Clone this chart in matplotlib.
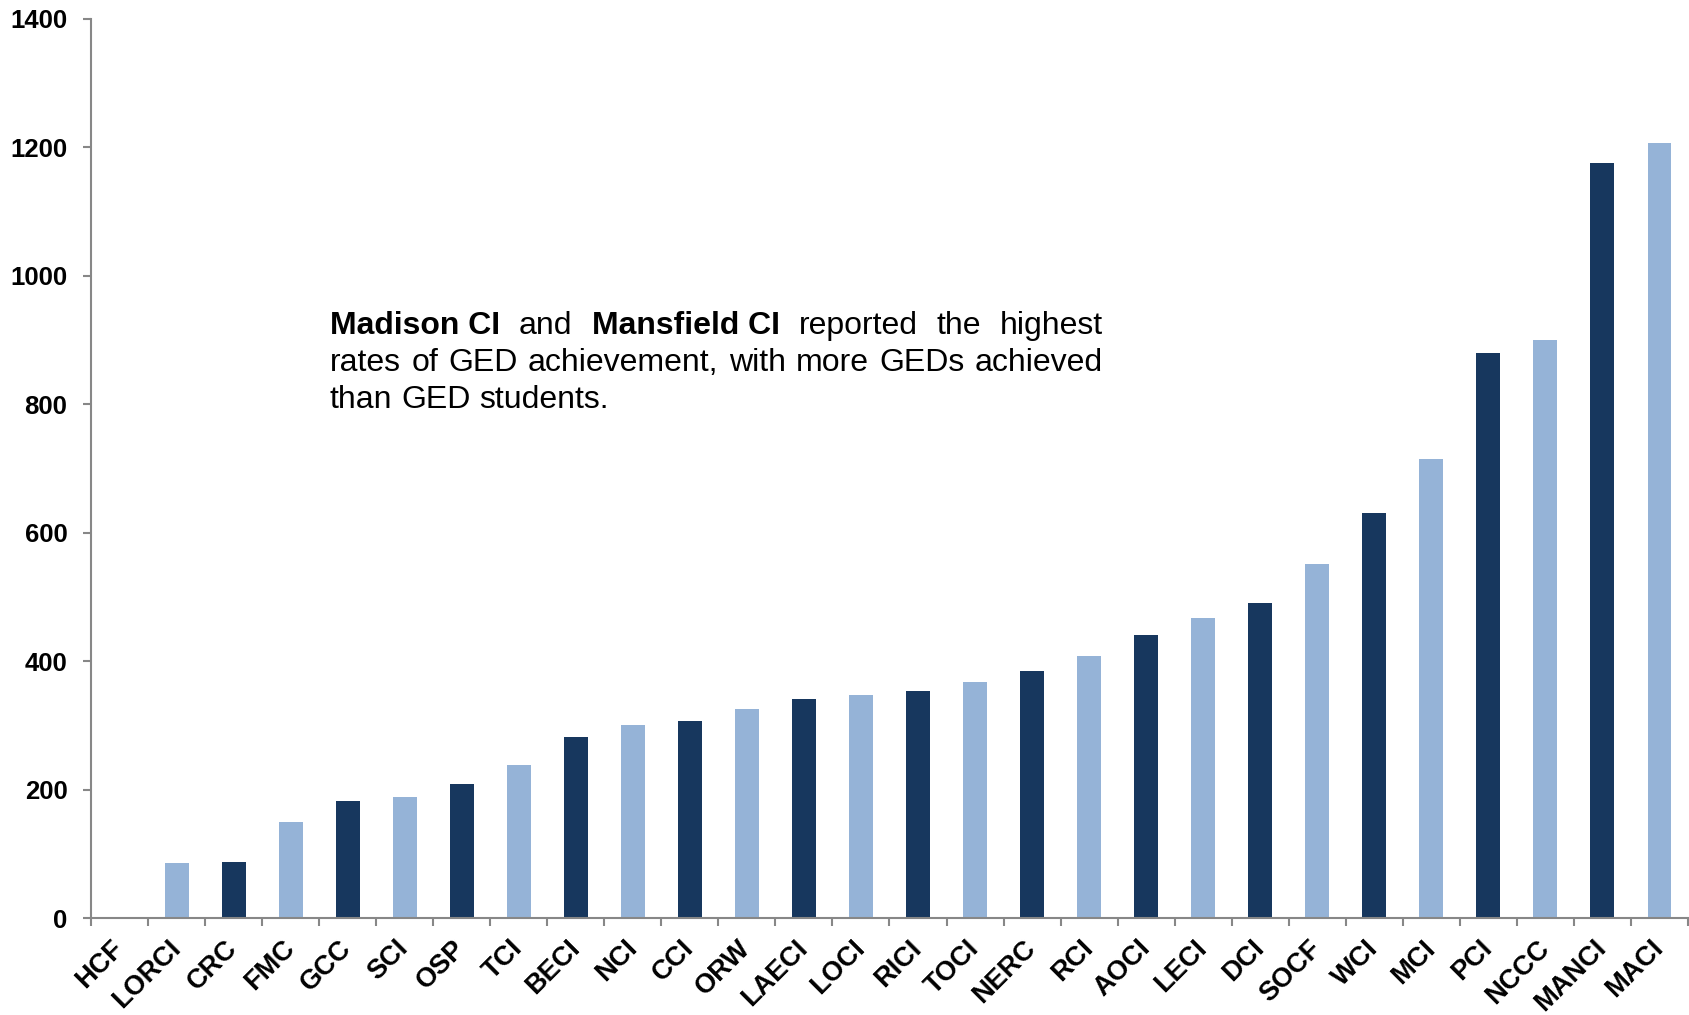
import matplotlib
matplotlib.use("Agg")
import matplotlib.pyplot as plt
from matplotlib import font_manager as fm
from matplotlib.font_manager import FontProperties

categories = ["HCF", "LORCI", "CRC", "FMC", "GCC", "SCI", "OSP", "TCI", "BECI", "NCI",
              "CCI", "ORW", "LAECI", "LOCI", "RICI", "TOCI", "NERC", "RCI", "AOCI", "LECI",
              "DCI", "SOCF", "WCI", "MCI", "PCI", "NCCC", "MANCI", "MACI"]
values = [0, 86, 87, 150, 182, 189, 208, 239, 282, 301,
          307, 326, 341, 348, 353, 367, 384, 408, 440, 467,
          490, 551, 630, 715, 880, 900, 1175, 1207]
yticks = [0, 200, 400, 600, 800, 1000, 1200, 1400]

note_lines = [
    [("Madison CI", True), ("and", False), ("Mansfield CI", True), ("reported", False),
     ("the", False), ("highest", False)],
    [("rates", False), ("of", False), ("GED", False), ("achievement,", False), ("with", False),
     ("more", False), ("GEDs", False), ("achieved", False)],
    [("than", False), ("GED", False), ("students.", False)],
]

DARK = "#17375E"
LIGHT = "#95B3D7"
AXIS = "#878787"


def find_file(basename):
    for f in fm.fontManager.ttflist:
        if f.fname.split("/")[-1].lower() == basename.lower():
            return f.fname
    return None


def fprop(basename, size, fallback_weight="normal"):
    p = find_file(basename)
    if p:
        return FontProperties(fname=p, size=size)
    return FontProperties(family="DejaVu Sans", weight=fallback_weight, size=size)


ytick_prop = fprop("LiberationSans-Bold.ttf", 18.5, "bold")
xtick_prop = fprop("LiberationSans-Bold.ttf", 19.5, "bold")

W, H = 1690, 1015
fig = plt.figure(figsize=(W / 100, H / 100), dpi=100)
ax = fig.add_axes([91 / W, 1 - 918 / H, (1688 - 91) / W, (918 - 19) / H])

x = list(range(len(categories)))
colors = [DARK if i % 2 == 0 else LIGHT for i in x]
ax.bar(x, values, width=0.42, color=colors, zorder=2)

ax.set_xlim(-0.5, len(categories) - 0.5)
ax.set_ylim(0, 1400)
ax.set_yticks(yticks)
ax.set_yticklabels([str(v) for v in yticks], fontproperties=ytick_prop)
ax.set_xticks(x)
ax.set_xticklabels(categories, rotation=45, ha="right", va="center",
                   rotation_mode="anchor", fontproperties=xtick_prop)
ax.set_xticks([i - 0.5 for i in range(len(categories) + 1)], minor=True)
ax.tick_params(axis="x", which="major", length=0, pad=19)
ax.tick_params(axis="x", which="minor", length=6, width=1.5, color=AXIS, direction="out")
ax.tick_params(axis="y", length=6, width=1.5, color=AXIS, pad=11)

for s in ["top", "right"]:
    ax.spines[s].set_visible(False)
for s in ["left", "bottom"]:
    ax.spines[s].set_color(AXIS)
    ax.spines[s].set_linewidth(1.5)
ax.spines["bottom"].set_zorder(3)

# Justified annotation text
NOTE_FS = 23
reg_file = find_file("LiberationSansNarrow-Regular.ttf") or find_file("LiberationSans-Regular.ttf")
bold_file = find_file("LiberationSansNarrow-Bold.ttf") or find_file("LiberationSans-Bold.ttf")
reg_prop = FontProperties(fname=reg_file, size=NOTE_FS) if reg_file else FontProperties(size=NOTE_FS)
bold_prop = FontProperties(fname=bold_file, size=NOTE_FS) if bold_file else FontProperties(size=NOTE_FS, weight="bold")

fig.canvas.draw()
renderer = fig.canvas.get_renderer()
left_px, right_px = 330, 1103
line_y = [326, 363, 400]
for li, line in enumerate(note_lines):
    texts = []
    widths = []
    for word, bold in line:
        t = fig.text(0, 0, word, fontproperties=bold_prop if bold else reg_prop,
                     va="center", ha="left")
        bb = t.get_window_extent(renderer)
        texts.append(t)
        widths.append(bb.width)
    sp_t = fig.text(0, 0, "a b", fontproperties=reg_prop)
    sp_ab = fig.text(0, 0, "ab", fontproperties=reg_prop)
    space = sp_t.get_window_extent(renderer).width - sp_ab.get_window_extent(renderer).width
    sp_t.remove(); sp_ab.remove()
    if li < len(note_lines) - 1:
        gap = (right_px - left_px - sum(widths)) / (len(widths) - 1)
    else:
        gap = space
    cx = left_px
    for t, w in zip(texts, widths):
        t.set_position((cx / W, 1 - line_y[li] / H))
        cx += w + gap

fig.savefig("out.png", dpi=100)
